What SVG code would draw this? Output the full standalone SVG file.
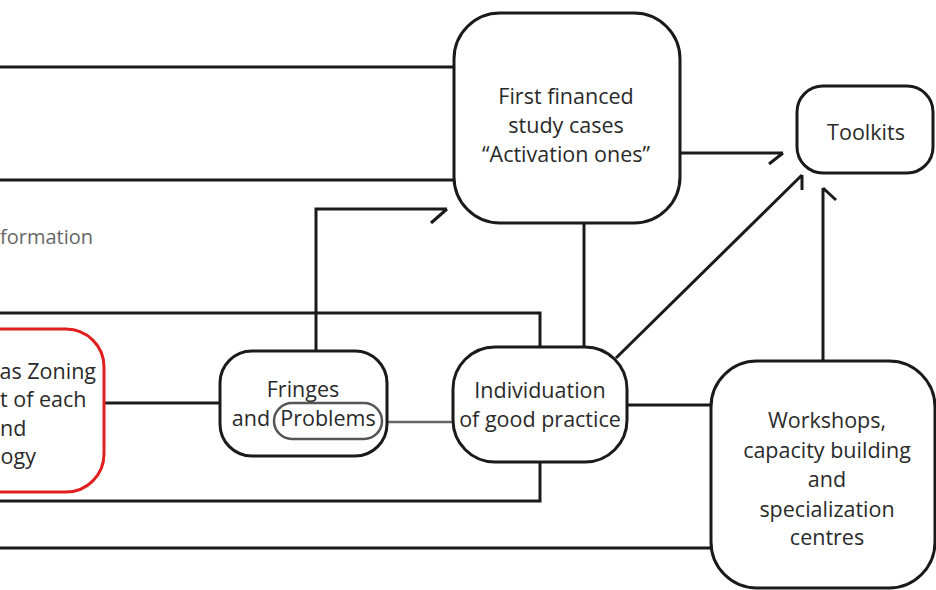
<svg xmlns="http://www.w3.org/2000/svg" width="936" height="590" viewBox="0 0 936 590">
<style>
.box{fill:#fff;stroke:#1a1a1a;stroke-width:3}
.ln{fill:none;stroke:#1a1a1a;stroke-width:3}
.g{fill:none;stroke:#666;stroke-width:2.5}
text{font-family:"Open Sans","Liberation Sans",sans-serif;font-size:21.5px;fill:#2a2a2a;text-anchor:middle}
</style>
<rect width="936" height="590" fill="#fff"/>
<g id="connectors">
<path class="ln" d="M0 67H454M0 180H454"/>
<path class="ln" d="M316 351V209H447M447 209L431 223"/>
<path class="ln" d="M680 153H783M783 153L769 164"/>
<path class="ln" d="M616 358L802 175M802 175V190"/>
<path class="ln" d="M823 361V188M823 188L836 200"/>
<path class="ln" d="M584 223V347"/>
<path class="ln" d="M540 347V313H0M540 462V501H0"/>
<path class="ln" d="M627 405H711M0 548H711"/>
<path class="ln" d="M104 403H220"/>
<path class="g" d="M382 422H453"/>
</g>
<g id="node-zoning">
<rect x="-60" y="329" width="164" height="163" rx="38" fill="#fff" stroke="#e0201f" stroke-width="3"/>
<text x="96" y="379" style="text-anchor:end">as Zoning</text>
<text x="0" y="407" style="text-anchor:start">t of each</text>
<text x="0" y="436" style="text-anchor:start">nd</text>
<text x="36" y="464" style="text-anchor:end">ogy</text>
</g>
<g id="node-information">
<text x="0" y="244" style="text-anchor:start;fill:#666;font-size:20px">formation</text>
</g>
<g id="node-first">
<rect class="box" x="454" y="13" width="226" height="210" rx="46"/>
<text x="566" y="104">First financed</text>
<text x="566" y="133">study cases</text>
<text x="566" y="162">“Activation ones”</text>
</g>
<g id="node-toolkits">
<rect class="box" x="797" y="86" width="136" height="87" rx="26"/>
<text x="866" y="140">Toolkits</text>
</g>
<g id="node-fringes">
<rect class="box" x="220" y="351" width="167" height="105" rx="32"/>
<text x="303" y="397">Fringes</text>
<text x="251" y="426">and</text>
<rect x="274" y="403" width="108" height="36" rx="18" fill="none" stroke="#555" stroke-width="2.5"/>
<text x="328" y="426">Problems</text>
</g>
<g id="node-individuation">
<rect class="box" x="453" y="347" width="174" height="115" rx="42"/>
<text x="540" y="398">Individuation</text>
<text x="540" y="427">of good practice</text>
</g>
<g id="node-workshops">
<rect class="box" x="711" y="361" width="224" height="227" rx="46"/>
<text x="827" y="428">Workshops,</text>
<text x="827" y="458">capacity building</text>
<text x="827" y="487">and</text>
<text x="827" y="517">specialization</text>
<text x="827" y="545">centres</text>
</g>
</svg>
